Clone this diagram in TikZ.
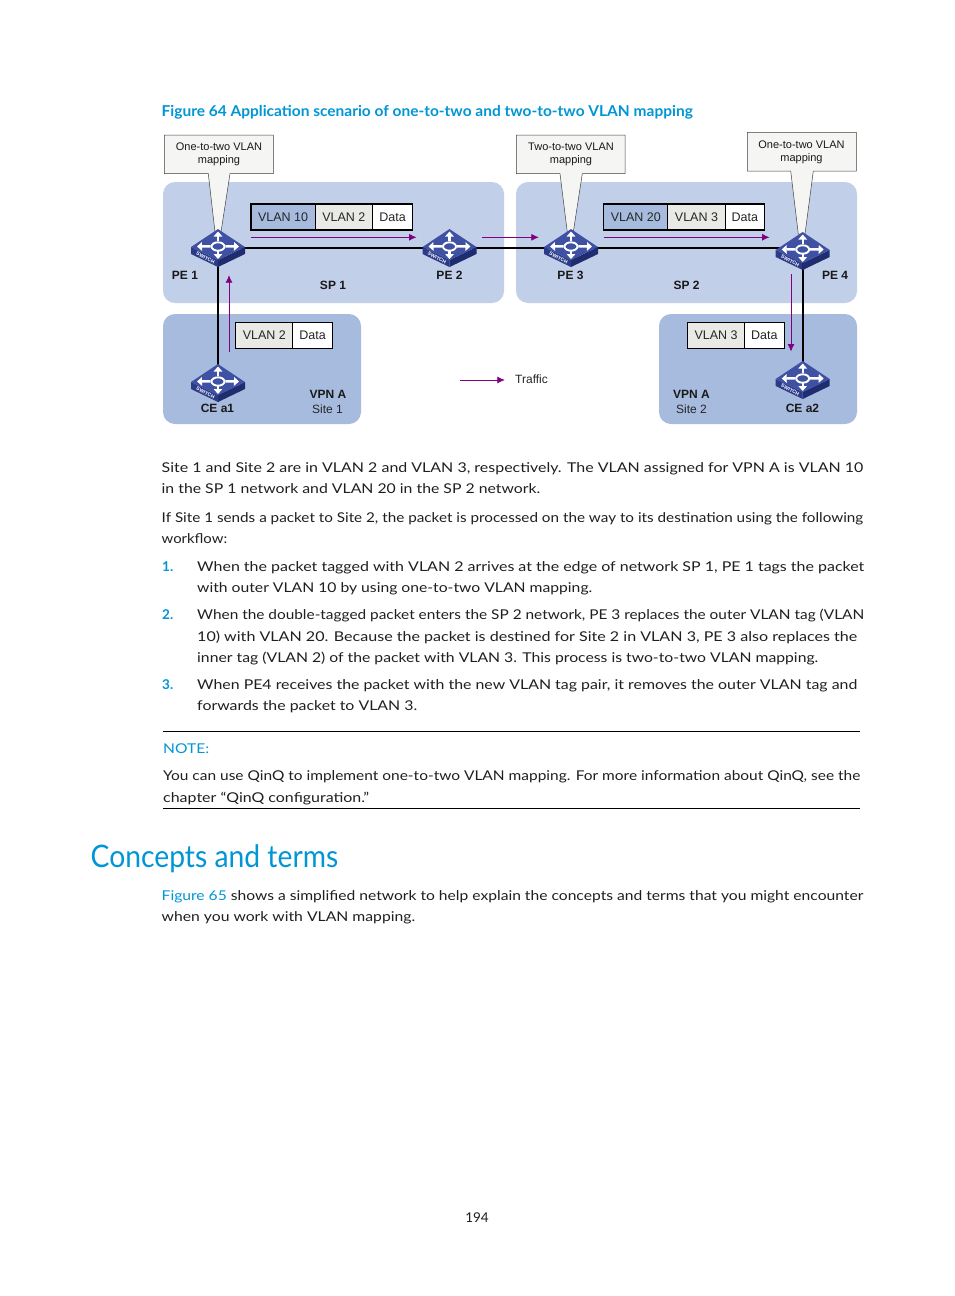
\documentclass[tikz,border=0pt]{standalone}
\usepackage{fontspec}
\usepackage{graphicx}
\setmainfont{Lato}
\newfontfamily\arial{Liberation Sans}
\usetikzlibrary{arrows.meta}
\definecolor{spblue}{HTML}{C1CFE9}
\definecolor{vpnblue}{HTML}{A7BBDE}
\definecolor{pktgrey}{HTML}{E9E9E5}
\definecolor{callout}{HTML}{F5F5F3}
\definecolor{traffic}{HTML}{800080}
\definecolor{hpblue}{HTML}{0096D6}
\definecolor{swtop}{HTML}{3F51A3}
\definecolor{swleft}{HTML}{2B3B87}
\definecolor{swright}{HTML}{1F2D70}
\tikzset{
  x=1pt,y=-1pt,
  region/.style={rounded corners=12pt,draw=none},
  calloutshape/.style={draw=black!75,line width=0.5pt,fill=callout,line join=miter},
  ctext/.style={font=\arial\fontsize{11}{13.2}\selectfont,align=center,inner sep=0pt,text=black!90},
  lbl/.style={font=\arial\bfseries\fontsize{12}{14}\selectfont,inner sep=0pt,text=black!90},
  sublbl/.style={font=\arial\fontsize{12}{14}\selectfont,inner sep=0pt,text=black!85},
  pkt/.style={draw=black,line width=1.2pt,minimum height=26pt,inner sep=0pt,font=\arial\fontsize{12.5}{14}\selectfont,text=black!85,anchor=west},
  link/.style={draw=black,line width=1.6pt},
  flow/.style={draw=traffic,line width=0.8pt,-{Latex[length=7.5pt,width=7pt]}},
  textline/.style={inner sep=0pt,anchor=base west,font=\fontsize{13.5}{16}\selectfont,text=black!88},
  swlabel/.style={inner sep=0pt,text=white,font=\arial\bfseries\fontsize{5}{6}\selectfont},
  rule/.style={draw=black,line width=0.6pt},
  swarrow/.style={draw=white,line width=2.4pt,-{Triangle[length=5pt,width=8.5pt]}}
}
% line of text fitted to a measured width
\newcommand{\tline}[5]{\node[textline] (#1) at (#2,#3) {\resizebox{#4pt}{\height}{#5}};}
% switch icon
\newcommand{\swicon}[3]{%
  \coordinate (#1) at (#2,#3);
  \begin{scope}[shift={(#2,#3)}]
    \fill[swleft] (-27,0) -- (-27,7) -- (0,20) -- (0,13) -- cycle;
    \fill[swright] (27,0) -- (27,7) -- (0,20) -- (0,13) -- cycle;
    \fill[swtop] (-27,0) -- (0,-18) -- (27,0) -- (0,13) -- cycle;
    \foreach \dx/\dy in {-21/-0.5,21/-0.5,0/-15.5,0/12}
      \draw[swarrow] (0.35*\dx,-0.5+0.35*\dy) -- (\dx,\dy);
    \draw[white,line width=1.9pt,fill=swtop] (0,-0.5) ellipse (6.5pt and 4.2pt);
    \node[swlabel,rotate=-27] (#1-label) at (-12.5,10.7) {SWITCH};
  \end{scope}}
\begin{document}
\begin{tikzpicture}
\useasboundingbox (0,0) rectangle (954,1296);
\fill[white] (0,0) rectangle (954,1296);

% heading
\node[textline,font=\bfseries\fontsize{15}{18}\selectfont,text=hpblue] (title) at (161.5,116) {\resizebox{531pt}{\height}{Figure 64 Application scenario of one-to-two and two-to-two VLAN mapping}};

% regions
\fill[region,spblue] (163,182) rectangle (504,303);
\fill[region,spblue] (516,182) rectangle (857,303);
\fill[region,vpnblue] (163,314) rectangle (361,424);
\fill[region,vpnblue] (659,314) rectangle (857,424);

% callouts
\draw[calloutshape] (164.3,135) -- (273.3,135) -- (273.3,173.7) -- (230,173.7) -- (221,232) -- (215,232) -- (208.3,173.7) -- (164.3,173.7) -- cycle;
\node[ctext] (c1) at (219,154.3) {One-to-two VLAN\\mapping};
\draw[calloutshape] (516.3,135) -- (625,135) -- (625,173.7) -- (582.3,173.7) -- (573.3,232) -- (567.3,232) -- (560,173.7) -- (516.3,173.7) -- cycle;
\node[ctext] (c2) at (571,154.3) {Two-to-two VLAN\\mapping};
\draw[calloutshape] (747.3,132.3) -- (856.3,132.3) -- (856.3,171) -- (813.3,171) -- (805,234) -- (798.3,234) -- (790.7,171) -- (747.3,171) -- cycle;
\node[ctext] (c3) at (801.5,152) {One-to-two VLAN\\mapping};

% switch positions first, links, then icons
\coordinate (pe1c) at (218,247.7);
\coordinate (pe2c) at (449.5,247.7);
\coordinate (pe3c) at (571,247.7);
\coordinate (pe4c) at (802.7,247.7);
\coordinate (ce1c) at (218,382);
\coordinate (ce2c) at (802.7,379);
\draw[link] (pe1c) -- (pe2c) -- (pe3c) -- (pe4c);
\draw[link] (pe1c) -- (ce1c);
\draw[link] (pe4c) -- (ce2c);

\swicon{pe1}{218}{247}
\swicon{pe2}{449.5}{247}
\swicon{pe3}{571}{247}
\swicon{pe4}{802.7}{250}
\swicon{ce1}{218}{382}
\swicon{ce2}{802.7}{379}

% packets
\node[pkt,fill=vpnblue,minimum width=64.3pt] (p1a) at (250.3,217) {VLAN 10};
\node[pkt,fill=pktgrey,minimum width=57.3pt] (p1b) at (314.6,217) {VLAN 2};
\node[pkt,fill=white,minimum width=40pt] (p1c) at (371.9,217) {Data};
\node[pkt,fill=vpnblue,minimum width=64pt] (p3a) at (603.2,217) {VLAN 20};
\node[pkt,fill=pktgrey,minimum width=57.3pt] (p3b) at (667.2,217) {VLAN 3};
\node[pkt,fill=white,minimum width=39.3pt] (p3c) at (724.5,217) {Data};
\node[pkt,fill=pktgrey,minimum width=57pt] (p2a) at (235.2,335.5) {VLAN 2};
\node[pkt,fill=white,minimum width=39.6pt] (p2b) at (292.2,335.5) {Data};
\node[pkt,fill=pktgrey,minimum width=56.6pt] (p4a) at (687.2,335.5) {VLAN 3};
\node[pkt,fill=white,minimum width=40pt] (p4b) at (743.8,335.5) {Data};

% traffic arrows
\coordinate (f1s) at (251,237.3); \coordinate (f1e) at (416.5,237.3);
\coordinate (f2s) at (482.3,237.3); \coordinate (f2e) at (538.8,237.3);
\coordinate (f3s) at (603.7,237.3); \coordinate (f3e) at (769.5,237.3);
\coordinate (f4s) at (229,351.7); \coordinate (f4e) at (229,275.2);
\coordinate (f5s) at (791,274); \coordinate (f5e) at (791,351.5);
\coordinate (f6s) at (460,380); \coordinate (f6e) at (504.8,380);
\draw[flow] (f1s) -- (f1e);
\draw[flow] (f2s) -- (f2e);
\draw[flow] (f3s) -- (f3e);
\draw[flow] (f4s) -- (f4e);
\draw[flow] (f5s) -- (f5e);
\draw[flow] (f6s) -- (f6e);

% labels
\node[lbl] (l1) at (185,275.8) {PE 1};
\node[lbl] (l2) at (449.5,275.8) {PE 2};
\node[lbl] (l3) at (570.5,275.8) {PE 3};
\node[lbl] (l4) at (835,275.8) {PE 4};
\node[lbl] (l5) at (333,285.8) {SP 1};
\node[lbl] (l6) at (686.5,285.8) {SP 2};
\node[lbl] (l7) at (217.5,408) {CE a1};
\node[lbl] (l8) at (802.5,408) {CE a2};
\node[lbl] (l9) at (328,394) {VPN A};
\node[sublbl] (l10) at (327.5,409) {Site 1};
\node[lbl] (l11) at (691.5,394) {VPN A};
\node[sublbl] (l12) at (691.5,409) {Site 2};
\node[sublbl,anchor=west] (l13) at (515,379) {Traffic};

% body
\tline{b1}{161.5}{472}{701.5}{Site 1 and Site 2 are in VLAN 2 and VLAN 3, respectively. The VLAN assigned for VPN A is VLAN 10}
\tline{b2}{161.5}{493}{378.5}{in the SP 1 network and VLAN 20 in the SP 2 network.}
\tline{b3}{161.5}{522.5}{701.5}{If Site 1 sends a packet to Site 2, the packet is processed on the way to its destination using the following}
\tline{b4}{161.5}{543.5}{65.5}{workflow:}
\node[textline,font=\bfseries\fontsize{13.5}{16}\selectfont,text=hpblue] (n1) at (162,571.5) {1.};
\tline{b5}{197}{571.5}{667}{When the packet tagged with VLAN 2 arrives at the edge of network SP 1, PE 1 tags the packet}
\tline{b6}{197}{592.5}{395}{with outer VLAN 10 by using one-to-two VLAN mapping.}
\node[textline,font=\bfseries\fontsize{13.5}{16}\selectfont,text=hpblue] (n2) at (162,619.5) {2.};
\tline{b7}{197}{619.5}{667}{When the double-tagged packet enters the SP 2 network, PE 3 replaces the outer VLAN tag (VLAN}
\tline{b8}{197}{641}{660}{10) with VLAN 20. Because the packet is destined for Site 2 in VLAN 3, PE 3 also replaces the}
\tline{b9}{197}{662.5}{621}{inner tag (VLAN 2) of the packet with VLAN 3. This process is two-to-two VLAN mapping.}
\node[textline,font=\bfseries\fontsize{13.5}{16}\selectfont,text=hpblue] (n3) at (162,689.5) {3.};
\tline{b10}{197}{689.5}{660}{When PE4 receives the packet with the new VLAN tag pair, it removes the outer VLAN tag and}
\tline{b11}{197}{710.5}{220}{forwards the packet to VLAN 3.}

% note
\coordinate (r1a) at (163,731.5); \coordinate (r1b) at (860,731.5);
\coordinate (r2a) at (163,808.5); \coordinate (r2b) at (860,808.5);
\draw[rule] (r1a) -- (r1b);
\draw[rule] (r2a) -- (r2b);
\node[textline,text=hpblue] (note) at (163,753) {\resizebox{46pt}{\height}{NOTE:}};
\tline{b12}{163}{780.5}{697}{You can use QinQ to implement one-to-two VLAN mapping. For more information about QinQ, see the}
\tline{b13}{163}{802}{206}{chapter “QinQ configuration.”}

% section
\node[textline,font=\fontsize{31}{36}\selectfont,text=hpblue] (sec) at (90.5,867.5) {\resizebox{247.5pt}{\height}{Concepts and terms}};
\tline{b14}{161.5}{900.5}{701.5}{\textcolor{hpblue}{Figure 65} shows a simplified network to help explain the concepts and terms that you might encounter}
\tline{b15}{161.5}{921.5}{253.5}{when you work with VLAN mapping.}

\node[textline,anchor=base] (page) at (477,1222) {194};
\end{tikzpicture}
\end{document}
